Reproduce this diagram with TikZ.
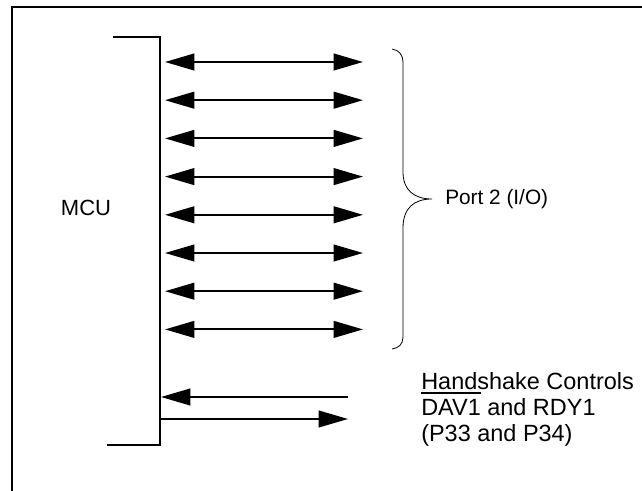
\documentclass[tikz,border=0pt]{standalone}
\usepackage{fontspec}
\setmainfont{Liberation Sans}
\usetikzlibrary{arrows.meta,calc,positioning}
\newlength{\sigw}
\newcommand{\activelow}[1]{\settowidth{\sigw}{#1}\rlap{\rule[0.88em]{\sigw}{1.5pt}}#1}

\begin{document}
\begin{tikzpicture}[x=0.75pt, y=-0.75pt, every node/.style={inner sep=0pt},
  thickline/.style={line width=1.5pt},
  bus/.style={line width=1.5pt, {Triangle[length=22pt,width=12.5pt]}-{Triangle[length=22pt,width=12.5pt]}},
  sig/.style={line width=1.5pt, -{Triangle[length=22pt,width=12.5pt]}},
  lbl/.style={font=\fontsize{16.5pt}{19pt}\selectfont}]
  \useasboundingbox (0,0) rectangle (642,491);
  % frame (only top and left edges show)
  \draw[thickline] (12,491) -- (12,7) -- (642,7);
  % MCU bracket
  \coordinate (M1) at (113,37);
  \coordinate (M2) at (160,37);
  \coordinate (M3) at (160,445);
  \coordinate (M4) at (107,445);
  \draw[thickline] (M1) -- (M2) -- (M3) -- (M4);
  \node[lbl] (mcu) at (86,208) {MCU};
  % port 2 lines
  \foreach \i in {0,...,7} {
    \coordinate (PL\i) at (165,{62+38.2*\i});
    \coordinate (PR\i) at (363,{62+38.2*\i});
    \draw[bus] (PL\i) -- (PR\i);
  }
  % brace
  \coordinate (B1) at (392,49);
  \coordinate (Btip) at (432,199);
  \coordinate (B2) at (392,349);
  \draw[line width=0.6pt] (B1) .. controls (399,50) and (403,55) .. (403,62) -- (403,172)
    .. controls (403,190) and (414,199) .. (Btip)
    .. controls (414,199) and (403,208) .. (403,228) -- (403,337)
    .. controls (403,344) and (399,348) .. (B2);
  \node[lbl, right=9.75pt of Btip, anchor=west, font=\fontsize{15.6pt}{18pt}\selectfont] (port) {Port 2 (I/O)};
  % handshake lines
  \coordinate (DAVext) at (348,397);
  \coordinate (DAVin) at (161,397);
  \coordinate (RDYin) at (161,419);
  \coordinate (RDYext) at (348,419);
  \draw[sig] (DAVext) -- (DAVin);
  \draw[sig] (RDYin) -- (RDYext);
  \node[font=\fontsize{17.6pt}{21pt}\selectfont, anchor=base west] (hand) at (421,389) {Handshake Controls};
  \node[font=\fontsize{17.6pt}{21pt}\selectfont, anchor=base west] (dav) at (421,415) {\activelow{DAV1} and RDY1};
  \node[font=\fontsize{17.6pt}{21pt}\selectfont, anchor=base west] (pins) at (421,441) {(P33 and P34)};
\end{tikzpicture}
\end{document}
